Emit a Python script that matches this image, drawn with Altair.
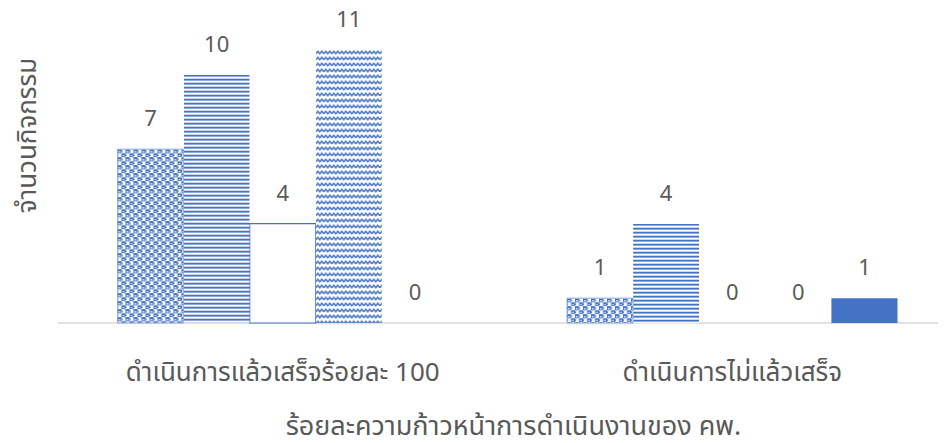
import base64
import altair as alt
import pandas as pd

# ---- data ----
groups = ["ดำเนินการแล้วเสร็จร้อยละ 100", "ดำเนินการไม่แล้วเสร็จ"]
series = ["ชุดที่ 1", "ชุดที่ 2", "ชุดที่ 3", "ชุดที่ 4", "ชุดที่ 5"]
values_done = [7, 10, 4, 11, 0]
values_not_done = [1, 4, 0, 0, 1]

y_title = "จำนวนกิจกรรม"
x_title = "ร้อยละความก้าวหน้าการดำเนินงานของ คพ."

# ---- styles ----
BLUE = "#4472C4"
TEXT = "#595959"
AXIS = "#D9D9D9"
FONT = "Noto Sans Thai, Noto Sans, DejaVu Sans, sans-serif"

W, H = 880, 298  # plot area


def pattern_url(w, h, body):
    # SVG without intrinsic size: it fills the image box 1:1, so the tiles keep their pixel size
    svg = (
        '<svg xmlns="http://www.w3.org/2000/svg">'
        f'<defs><pattern id="p" patternUnits="userSpaceOnUse" width="{w}" height="{h}">'
        f"{body}</pattern></defs>"
        '<rect width="100%" height="100%" fill="url(#p)"/></svg>'
    )
    return "data:image/svg+xml;base64," + base64.b64encode(svg.encode("utf-8")).decode("ascii")


dots = pattern_url(
    8, 8,
    f'<rect width="8" height="8" fill="white"/>'
    f'<rect x="0" y="0" width="4" height="4" fill="{BLUE}"/>'
    f'<rect x="4" y="4" width="4" height="4" fill="{BLUE}"/>'
    f'<rect x="1" y="2" width="2" height="1" fill="white"/>'
    f'<rect x="5" y="6" width="2" height="1" fill="white"/>'
    f'<rect x="4" y="1" width="1" height="2" fill="{BLUE}"/>'
    f'<rect x="0" y="5" width="1" height="2" fill="{BLUE}"/>',
)
hlines = pattern_url(
    4, 4,
    f'<rect width="4" height="4" fill="white"/><rect x="0" y="0" width="4" height="2" fill="{BLUE}"/>',
)
waves = pattern_url(
    8, 6,
    f'<rect width="8" height="6" fill="white"/>'
    f'<path d="M0 4 L2 1.5 L4 4 L6 1.5 L8 4" fill="none" stroke="{BLUE}" stroke-width="1.5"/>',
)
urls = {series[0]: dots, series[1]: hlines, series[3]: waves}

rows = []
for g, vals in zip(groups, [values_done, values_not_done]):
    for s, v in zip(series, vals):
        rows.append({"group": g, "series": s, "value": v, "url": urls.get(s, "")})
df = pd.DataFrame(rows)

x_enc = alt.X(
    "group:N",
    sort=groups,
    scale=alt.Scale(domain=groups, range=[0, 899], paddingInner=0, paddingOuter=0),
    axis=alt.Axis(
        title=x_title,
        labelAngle=0,
        labelLimit=0,
        domain=False,
        ticks=False,
        tickSize=0,
        labelPadding=49,
        labelBaseline="middle",
        labelFontSize=26,
        labelColor=TEXT,
        labelFont=FONT,
        titleFontSize=27,
        titleFontWeight="normal",
        titleColor=TEXT,
        titleFont=FONT,
        titleX=455,
        titleY=111,
        titleAlign="center",
        titleBaseline="alphabetic",
    ),
)
xo_enc = alt.XOffset("series:N", sort=series, scale=alt.Scale(domain=series, paddingInner=0, paddingOuter=0.9))
y_enc = alt.Y(
    "value:Q",
    scale=alt.Scale(domain=[0, 12], nice=False),
    axis=alt.Axis(
        title=y_title,
        labels=False,
        ticks=False,
        domain=False,
        grid=False,
        titleFontSize=26,
        titleFontWeight="normal",
        titleColor=TEXT,
        titleFont=FONT,
        titleX=-31,
        titleY=110,
        titleAngle=-90,
        titleAlign="center",
        titleBaseline="middle",
    ),
)

base = alt.Chart(df)
positive = alt.datum.value > 0

baseline = alt.Chart(pd.DataFrame({"v": [0]})).mark_rule(color=AXIS, strokeWidth=1.5).encode(
    x=alt.value(0), x2=alt.value(W), y=alt.value(H)
)

white_bars = base.transform_filter((alt.datum.series == series[2]) & positive).mark_bar(
    fill="white", stroke=BLUE, strokeWidth=1.2
).encode(x=x_enc, xOffset=xo_enc, y=y_enc, y2=alt.datum(0))

solid_bars = base.transform_filter((alt.datum.series == series[4]) & positive).mark_bar(
    color=BLUE
).encode(x=x_enc, xOffset=xo_enc, y=y_enc, y2=alt.datum(0))

pattern_bars = base.transform_filter((alt.datum.url != "") & positive).mark_image(aspect=False).encode(
    x=x_enc, xOffset=xo_enc, y=y_enc, y2=alt.datum(0), url="url:N"
)

edge_bars = base.transform_filter((alt.datum.series == series[0]) & positive).mark_bar(
    fillOpacity=0, stroke="#8FAADC", strokeWidth=1
).encode(x=x_enc, xOffset=xo_enc, y=y_enc, y2=alt.datum(0))

labels = base.mark_text(dy=-30, baseline="middle", fontSize=22, color=TEXT, font=FONT).encode(
    x=x_enc, xOffset=xo_enc, y=y_enc, text="value:Q"
)

chart = (
    alt.layer(baseline, white_bars, solid_bars, pattern_bars, edge_bars, labels)
    .properties(
        width=W,
        height=H,
        padding={"left": 50, "top": 17, "right": 0, "bottom": 120},
        autosize=alt.AutoSizeParams(type="none"),
    )
    .configure_view(stroke=None)
)

chart.save("out.html", embed_options={"renderer": "svg", "actions": False})
